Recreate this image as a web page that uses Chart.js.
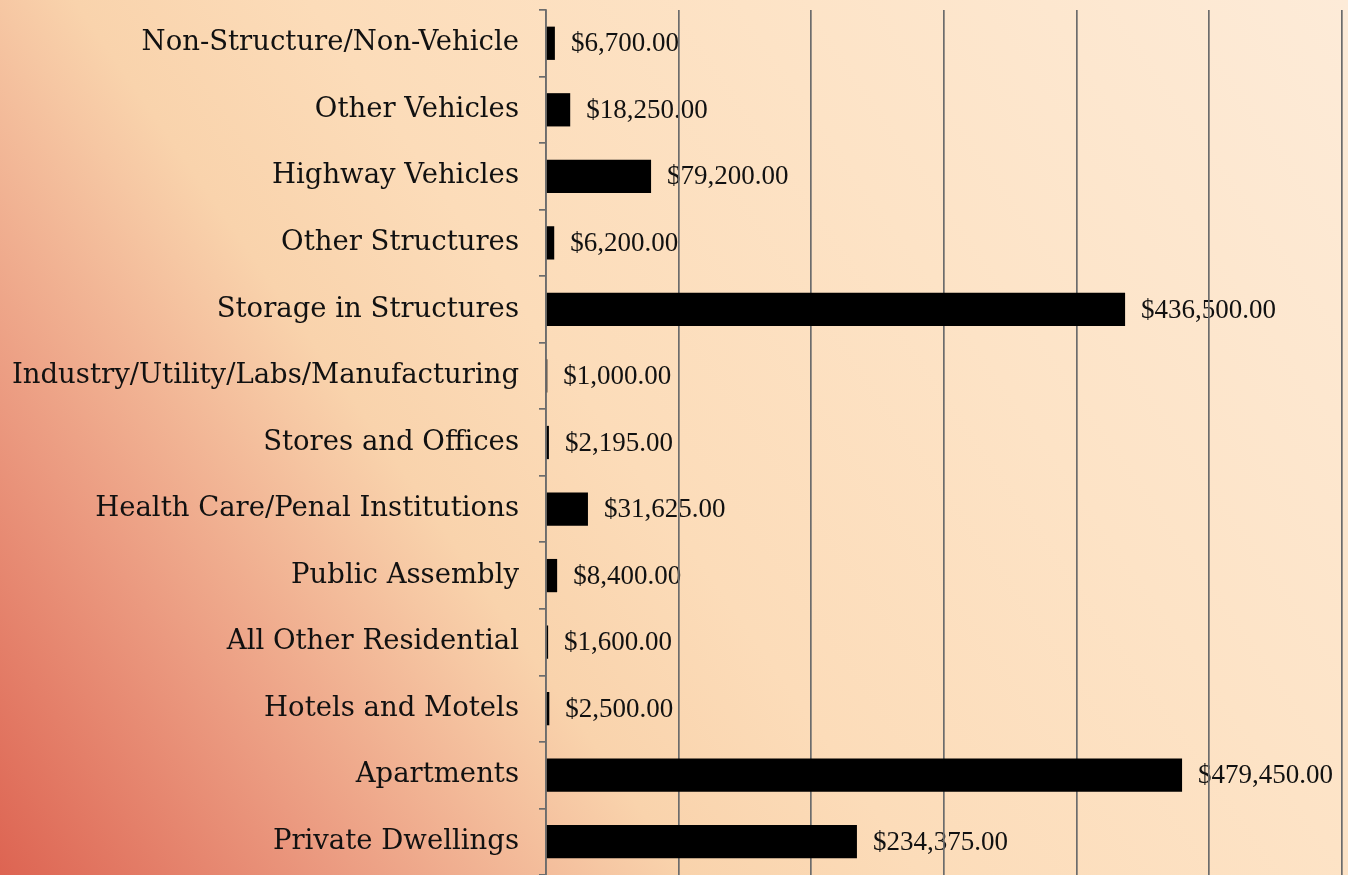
<!DOCTYPE html>
<html>
<head>
<meta charset="utf-8">
<script src="https://cdn.jsdelivr.net/npm/chart.js@4"></script>
<style>
  html, body { margin: 0; padding: 0; width: 1348px; height: 875px; overflow: hidden; }
  body { background: linear-gradient(55deg, #dd6452 0%, #eb9a80 17%, #f6c7a3 31%, #f9d3ac 35%, #fcdcb9 47%, #fde3c6 69%, #fdebd8 100%); }
  #wrap { position: relative; width: 1348px; height: 875px; }
</style>
</head>
<body>
<div id="wrap"><canvas id="c" width="1348" height="875"></canvas></div>
<script>
const categories = [
  "Non-Structure/Non-Vehicle",
  "Other Vehicles",
  "Highway Vehicles",
  "Other Structures",
  "Storage in Structures",
  "Industry/Utility/Labs/Manufacturing",
  "Stores and Offices",
  "Health Care/Penal Institutions",
  "Public Assembly",
  "All Other Residential",
  "Hotels and Motels",
  "Apartments",
  "Private Dwellings"
];
const lossValues = [6700, 18250, 79200, 6200, 436500, 1000, 2195, 31625, 8400, 1600, 2500, 479450, 234375];
const axisMin = 0;
const axisMax = 600000;
const axisStep = 100000;

const fmt = v => "$" + v.toLocaleString("en-US", { minimumFractionDigits: 2, maximumFractionDigits: 2 });

const valueLabels = {
  id: "valueLabels",
  beforeDraw(chart) {
    const ctx = chart.ctx;
    const meta = chart.getDatasetMeta(0);
    ctx.save();
    ctx.font = "27px 'Liberation Serif'";
    ctx.fillStyle = "#111";
    ctx.textAlign = "left";
    ctx.textBaseline = "middle";
    meta.data.forEach((bar, i) => {
      ctx.fillText(fmt(lossValues[i]), bar.x + 16, bar.y + 1);
    });
    ctx.restore();
  }
};

new Chart(document.getElementById("c"), {
  type: "bar",
  data: {
    labels: categories,
    datasets: [{
      data: lossValues,
      backgroundColor: "#000",
      borderWidth: 0,
      barPercentage: 0.5,
      categoryPercentage: 1.0
    }]
  },
  options: {
    indexAxis: "y",
    responsive: false,
    animation: false,
    layout: { padding: { top: 10, right: 6, bottom: 0, left: 0 } },
    plugins: { legend: { display: false }, tooltip: { enabled: false } },
    scales: {
      x: {
        min: axisMin, max: axisMax,
        afterFit(scale) { scale.height = 0; scale.paddingLeft = 0; scale.paddingRight = 0; scale.paddingTop = 0; scale.paddingBottom = 0; },
        ticks: { display: false, stepSize: axisStep },
        grid: { color: "#6c6c6c", lineWidth: 1.7, drawTicks: false },
        border: { display: false }
      },
      y: {
        afterFit(scale) { scale.width = 546; scale.paddingTop = 0; scale.paddingBottom = 0; },
        ticks: { color: "#111", font: { family: "'DejaVu Serif'", size: 27.5 }, padding: 20 },
        grid: { drawOnChartArea: false, drawTicks: true, tickLength: 7, color: "#6c6c6c", lineWidth: 1.7 },
        border: { display: true, color: "#6c6c6c", width: 1.7 }
      }
    }
  },
  plugins: [valueLabels]
});
</script>
</body>
</html>
